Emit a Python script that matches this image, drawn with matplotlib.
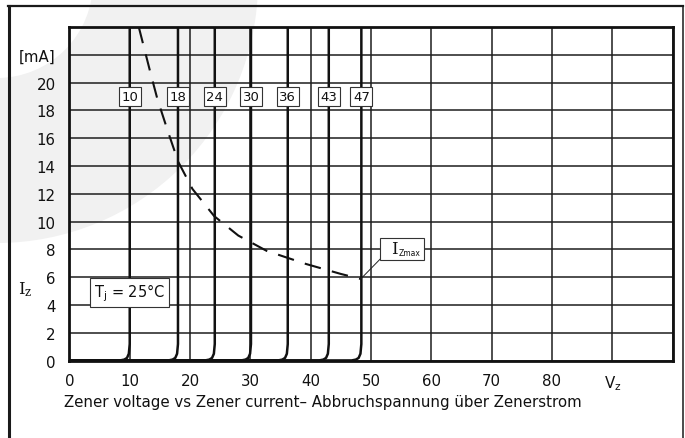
import numpy as np
import matplotlib.pyplot as plt
from matplotlib.patches import Wedge, Rectangle
from matplotlib.lines import Line2D

# Zener breakdown voltages (position of the vertical rise) and their labels
zener_v = [10.0, 18.0, 24.1, 30.1, 36.2, 43.0, 48.4]
zener_labels = ['10', '18', '24', '30', '36', '43', '47']

# knee shape of one curve, relative to the breakdown voltage
knee_dv = [-1.6, -0.9, -0.45, -0.15, 0.0, 0.0]
knee_i = [0.02, 0.08, 0.2, 0.5, 1.2, 24.0]

# maximum zener current (dashed line)
izmax_v = [11.5, 13.5, 14.6, 16.4, 18.05, 20.4, 24.0, 28.0, 32.7, 39.2, 45.0, 48.3]
izmax_i = [24.0, 20.6, 18.8, 16.4, 14.3, 12.35, 10.4, 9.0, 7.9, 6.96, 6.24, 5.88]

x_ticks = list(range(0, 101, 10))
x_ticklabels = ['0', '10', '20', '30', '40', '50', '60', '70', '80', r'$\mathregular{V_z}$', '']
y_ticks = list(range(0, 25, 2))
y_ticklabels = ['0', '2', '4', '6', '8', '10', '12', '14', '16', '18', '20', '[mA]', '']

W, H = 685, 439
fig = plt.figure(figsize=(W / 100, H / 100), dpi=100)

# background layer in pixel coordinates: watermark + outer frame
bg = fig.add_axes([0, 0, 1, 1], zorder=0)
bg.set_xlim(0, W)
bg.set_ylim(H, 0)
bg.axis('off')
bg.add_patch(Wedge((-3, -17), 261, 0, 90, width=165, color='#f1f1f1', lw=0))
bg.add_line(Line2D([9.5, 9.5], [6.5, H + 5], color='#1a1a1a', lw=2.2))
bg.add_line(Line2D([8.5, 683.5], [6.5, 6.5], color='#1a1a1a', lw=1.6))
bg.add_line(Line2D([683.5, 683.5], [6.5, H + 5], color='#1a1a1a', lw=1.1))

ax = fig.add_axes([69.4 / W, 1 - 361.7 / H, (672.6 - 69.4) / W, (361.7 - 28) / H], zorder=1)
ax.set_facecolor('none')
ax.set_xlim(0, 100)
ax.set_ylim(0, 24)
ax.set_xticks(x_ticks)
ax.set_xticklabels(x_ticklabels)
ax.set_yticks(y_ticks)
ax.set_yticklabels(y_ticklabels)
ax.tick_params(length=0, labelsize=10.8, colors='#111')
ax.tick_params(axis='x', pad=9)
ax.tick_params(axis='y', pad=10)
ax.grid(True, color='#1e1e1e', lw=1.1)
ax.set_axisbelow(True)
for sp in ax.spines.values():
    sp.set_linewidth(2.0)
    sp.set_color('#111')

# zener curves
for v, lab in zip(zener_v, zener_labels):
    xs = [0.0] + [v + d for d in knee_dv]
    ys = [0.0] + knee_i
    ax.plot(xs, ys, color='#111', lw=1.8, solid_joinstyle='round', zorder=3)
    ax.text(v, 19, lab, ha='center', va='center', fontsize=9.5, color='#111', zorder=5,
            bbox=dict(boxstyle='square,pad=0.2', fc='white', ec='#333', lw=0.8))

# Izmax dashed curve
ax.plot(izmax_v, izmax_i, color='#111', lw=1.5, linestyle=(0, (8, 5.5)), zorder=4)
ax.plot([izmax_v[-1], 51.5], [izmax_i[-1], 7.3], color='#222', lw=0.7, zorder=4)
ax.add_patch(Rectangle((51.5, 7.24), 7.3, 1.6, fc='white', ec='#333', lw=0.8, zorder=5))
ax.text(53.8, 8.05, 'I', family='DejaVu Serif', ha='center', va='center',
        fontsize=12, color='#111', zorder=6)
ax.text(54.6, 7.75, 'Zmax', ha='left', va='center', fontsize=5.5, color='#111', zorder=6)

ax.text(10, 4.9, r'$\mathregular{T_j}$ = 25°C', ha='center', va='center', fontsize=10.5,
        color='#111', zorder=5,
        bbox=dict(boxstyle='square,pad=0.25', fc='white', ec='#333', lw=0.8))

fig.text(25 / W, 1 - 290 / H, r'$\mathrm{I}_\mathrm{z}$', math_fontfamily='dejavuserif',
         ha='center', va='center', fontsize=12, color='#111')

fig.text(64 / W, 1 - 403 / H, 'Zener voltage vs Zener current\u2013 Abbruchspannung über Zenerstrom',
         ha='left', va='center', fontsize=10.8, color='#111')

fig.savefig('out.png', dpi=100)
